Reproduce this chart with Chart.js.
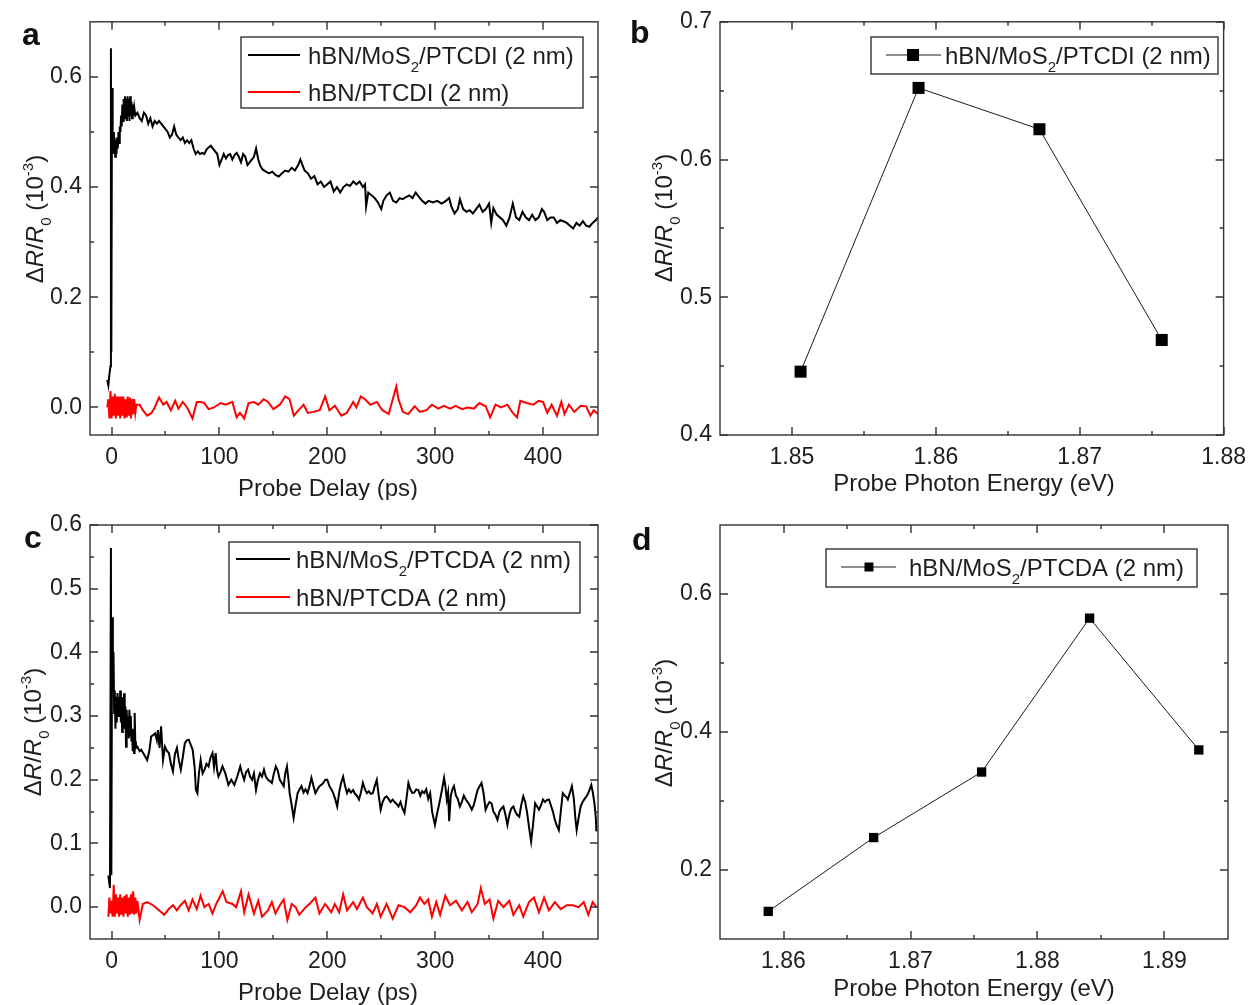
<!DOCTYPE html>
<html>
<head>
<meta charset="utf-8">
<script src="https://cdn.jsdelivr.net/npm/chart.js@4.4.0/dist/chart.umd.min.js"></script>
<style>
  body { margin: 0; background: #fff; }
  #fig { position: relative; width: 1255px; height: 1005px; background: #fff; }
  #fig canvas { position: absolute; }
</style>
</head>
<body>
<div id="fig">
  <canvas id="panelA" width="620" height="500" style="left:0;top:0"></canvas>
  <canvas id="panelB" width="635" height="500" style="left:620px;top:0"></canvas>
  <canvas id="panelC" width="620" height="505" style="left:0;top:500px"></canvas>
  <canvas id="panelD" width="635" height="505" style="left:620px;top:500px"></canvas>
</div>
<script>
// [delay (ps), dR/R0 (1e-3)]
const ptcdiHybrid = [
  [-4,0.05],[-3,0.04],[-2,0.06],[-1,0.075],[-0.6,0.652],[-0.2,0.1],[0.4,0.58],[1,0.47],[1.6,0.5],[2.2,0.46],
  [2.8,0.49],[3.4,0.455],[4,0.485],[4.6,0.46],[5.2,0.49],[5.8,0.47],[6.4,0.5],[7,0.48],[7.6,0.51],[8.2,0.5],
  [8.8,0.53],[9.4,0.51],[10,0.55],[10.6,0.52],[11.2,0.56],[11.8,0.525],[12.4,0.565],[13,0.53],[13.6,0.56],[14.2,0.52],
  [14.8,0.565],[15.4,0.53],[16,0.56],[16.6,0.52],[17.2,0.565],[17.8,0.53],[18.4,0.555],[19,0.525],[19.6,0.55],[20.2,0.53],
  [21,0.545],[22,0.53],[24,0.535],[26,0.525],[28,0.52],[30,0.535],[32,0.53],[34,0.515],[36,0.525],[38,0.51],
  [40,0.52],[42,0.515],[44,0.52],[46,0.515],[48,0.51],[50,0.505],[52,0.5],[54,0.49],[56,0.495],[58,0.51],
  [60,0.495],[62,0.49],[64,0.485],[66,0.49],[68,0.48],[70,0.485],[72,0.48],[74,0.485],[76,0.47],[78,0.46],
  [80,0.465],[82,0.46],[84,0.462],[86,0.46],[88,0.468],[90,0.472],[92,0.475],[94,0.47],[96,0.465],[98,0.46],
  [100,0.44],[102,0.45],[104,0.46],[106,0.452],[108,0.458],[110,0.46],[112,0.45],[114,0.458],[116,0.462],[118,0.455],
  [120,0.445],[122,0.46],[124,0.455],[126,0.44],[128,0.445],[130,0.45],[132,0.455],[134,0.47],[136,0.45],[138,0.438],
  [140,0.432],[143,0.428],[146,0.425],[149,0.428],[152,0.422],[155,0.419],[158,0.425],[161,0.43],[164,0.428],[167,0.435],
  [170,0.43],[173,0.44],[175,0.45],[177,0.44],[179,0.43],[182,0.425],[185,0.415],[188,0.42],[191,0.405],[194,0.41],
  [197,0.4],[200,0.405],[203,0.41],[206,0.392],[209,0.4],[212,0.39],[215,0.4],[218,0.405],[221,0.402],[224,0.41],
  [227,0.405],[230,0.41],[233,0.4],[235,0.405],[236,0.365],[238,0.39],[241,0.385],[244,0.38],[247,0.372],[250,0.36],
  [252,0.375],[255,0.385],[258,0.39],[261,0.375],[264,0.372],[267,0.38],[270,0.378],[273,0.382],[276,0.385],[279,0.38],
  [282,0.39],[285,0.382],[288,0.375],[291,0.37],[294,0.375],[298,0.372],[302,0.375],[306,0.37],[310,0.375],[313,0.38],
  [315,0.365],[318,0.352],[321,0.36],[323,0.378],[326,0.36],[329,0.355],[332,0.358],[335,0.352],[338,0.36],[341,0.368],
  [344,0.355],[347,0.36],[350,0.37],[352,0.335],[354,0.362],[357,0.35],[360,0.345],[363,0.34],[366,0.33],[369,0.345],
  [372,0.37],[375,0.345],[378,0.34],[381,0.355],[384,0.345],[387,0.34],[390,0.35],[393,0.34],[396,0.345],[399,0.36],
  [401,0.355],[404,0.34],[407,0.345],[410,0.345],[413,0.335],[416,0.34],[419,0.338],[422,0.335],[425,0.33],[428,0.325],
  [431,0.335],[434,0.33],[437,0.338],[440,0.33],[443,0.328],[446,0.335],[449,0.34],[451,0.345]
];
const ptcdiRef = [
  [-4,0],[-3,0.015],[-2,-0.02],[-1,0.03],[0,-0.02],[1,0.02],[2,-0.015],[3,0.025],[4,-0.02],[5,0.02],
  [6,-0.015],[7,0.02],[8,-0.02],[9,0.02],[10,-0.015],[11,0.02],[12,-0.02],[13,0.015],[14,-0.018],[15,0.02],
  [16,-0.015],[17,0.018],[18,-0.02],[19,0.015],[20,-0.012],[21,0.015],[22,-0.01],[23,0.005],[26,0.005],[29,-0.005],
  [33,-0.015],[37,-0.01],[40,0],[44,0.018],[48,0.005],[51,0.01],[55,-0.005],[59,0.012],[62,-0.002],[66,0.01],
  [70,0],[75,-0.02],[79,0.01],[83,0.01],[86,0.008],[90,-0.003],[95,0],[101,0.008],[106,0.005],[112,0.01],
  [116,-0.018],[119,-0.01],[123,-0.02],[127,0.008],[132,0.01],[136,0.005],[141,0.015],[145,0.01],[150,-0.003],[156,0.005],
  [161,0.02],[165,0.015],[169,-0.015],[172,-0.008],[178,0.005],[182,-0.01],[187,-0.008],[193,-0.005],[198,0.02],[202,-0.005],
  [207,0.003],[213,-0.015],[218,-0.01],[224,0.01],[227,0],[231,0.02],[235,0.015],[240,0.005],[246,0.01],[251,-0.005],
  [257,-0.012],[260,0.01],[264,0.038],[266,0.015],[270,-0.008],[275,-0.012],[281,0.002],[286,-0.008],[292,-0.005],[297,0.005],
  [303,-0.002],[308,0.003],[314,-0.002],[319,0.003],[325,-0.003],[330,0],[336,-0.002],[341,0.008],[347,0.002],[351,-0.018],
  [356,0.005],[361,0],[367,0.005],[372,-0.01],[376,-0.018],[379,0.012],[385,0.008],[391,0.005],[396,0.012],[400,0.01],
  [404,-0.01],[408,0.005],[413,-0.015],[417,0.01],[420,-0.012],[424,0.005],[429,-0.008],[435,0.003],[440,0.002],[444,-0.015],
  [447,-0.005],[451,-0.012]
];
const ptcdaHybrid = [
  [-3,0.05],[-1.5,0.03],[-0.6,0.564],[-0.2,0.05],[0.5,0.455],[1.2,0.37],[1.8,0.4],[2.4,0.305],[3,0.34],[3.6,0.28],
  [4.2,0.33],[4.8,0.29],[5.5,0.336],[6.2,0.3],[6.8,0.33],[7.4,0.3],[8,0.34],[8.6,0.29],[9.2,0.325],[9.8,0.275],
  [10.4,0.33],[11,0.29],[11.6,0.336],[12.2,0.28],[12.8,0.315],[13.4,0.252],[14,0.31],[14.7,0.27],[15.4,0.3],[16,0.265],
  [16.5,0.31],[17.2,0.27],[17.8,0.3],[18.4,0.26],[19,0.28],[19.6,0.245],[20.2,0.273],[20.8,0.242],[21.4,0.305],[22,0.26],
  [22.6,0.25],[23.9,0.252],[26,0.245],[27.5,0.247],[30,0.24],[33,0.231],[35,0.245],[36.7,0.268],[38.5,0.27],[40.4,0.273],
  [42,0.262],[43,0.278],[44.5,0.25],[45.9,0.284],[47.7,0.231],[49.5,0.252],[51.5,0.245],[53.2,0.242],[55,0.225],[56.9,0.213],
  [58.7,0.24],[60.6,0.25],[62.4,0.23],[64.2,0.216],[66,0.235],[67.9,0.257],[69.7,0.262],[71.6,0.263],[73.4,0.255],[75.2,0.247],
  [77,0.22],[78.2,0.184],[79.6,0.179],[81,0.21],[82.6,0.231],[84.4,0.21],[86.2,0.216],[88,0.225],[89.9,0.221],[91.7,0.235],
  [93.6,0.242],[95,0.22],[96.5,0.242],[97.8,0.215],[99.1,0.205],[101,0.212],[102.8,0.221],[105.5,0.21],[108.3,0.192],[111,0.2],
  [113.8,0.192],[116.5,0.205],[119.3,0.221],[121,0.21],[122.9,0.2],[124.7,0.212],[126.6,0.216],[128.4,0.205],[130.3,0.2],[132,0.21],
  [133.9,0.184],[135.7,0.2],[137.6,0.21],[139.5,0.205],[141.3,0.216],[143,0.205],[145,0.2],[146.8,0.198],[148.6,0.195],[150.5,0.21],
  [152.3,0.221],[154,0.215],[156,0.2],[157.8,0.195],[159.6,0.19],[161,0.21],[162.6,0.221],[164,0.2],[165.1,0.179],[167,0.16],
  [168.8,0.14],[170.6,0.16],[172.5,0.179],[174.3,0.185],[176.1,0.19],[178,0.18],[179.8,0.185],[181.7,0.179],[183.5,0.19],[185.3,0.203],
  [187.2,0.19],[189,0.179],[191,0.185],[192.7,0.19],[194.5,0.192],[196.3,0.195],[198.2,0.2],[200,0.2],[202,0.19],[203.7,0.185],
  [205.5,0.179],[207.3,0.17],[209.2,0.158],[211,0.18],[212.8,0.195],[214.7,0.205],[216.5,0.19],[218.3,0.179],[220,0.185],[222,0.18],
  [223.9,0.184],[225.7,0.178],[227.5,0.175],[229.4,0.169],[231.2,0.18],[233,0.195],[235,0.185],[236.7,0.179],[238.5,0.182],[240.3,0.178],
  [242.2,0.179],[244,0.19],[245.9,0.2],[247.7,0.175],[249.5,0.153],[251.3,0.165],[253.2,0.172],[255,0.174],[256.8,0.17],[258.7,0.165],
  [260.6,0.169],[262.4,0.165],[264.2,0.162],[266,0.158],[267.9,0.165],[269.7,0.155],[271.6,0.148],[273.4,0.17],[275.2,0.195],[277,0.185],
  [278.9,0.179],[280.7,0.18],[282.5,0.185],[284.4,0.184],[286.2,0.175],[288,0.182],[289.9,0.179],[291.7,0.185],[293.6,0.17],[295.4,0.179],
  [297.2,0.15],[299.8,0.129],[301.6,0.145],[303.5,0.16],[304.6,0.169],[306.4,0.185],[308.3,0.203],[309.5,0.19],[310.8,0.169],[312,0.18],
  [313,0.135],[314.5,0.175],[316,0.185],[317.4,0.19],[319.3,0.175],[321,0.17],[322.9,0.158],[324.7,0.165],[326.6,0.175],[328.4,0.169],
  [330.2,0.165],[332,0.16],[334,0.153],[335.8,0.16],[337.6,0.172],[339.4,0.184],[341.2,0.19],[343,0.195],[344.8,0.18],[346.8,0.153],
  [348.6,0.16],[350.4,0.165],[352.3,0.163],[354,0.15],[355.9,0.145],[357.8,0.137],[359.6,0.15],[361.5,0.155],[363.3,0.158],[365.2,0.145],
  [367,0.129],[368.8,0.145],[370.6,0.155],[372.5,0.158],[374.3,0.15],[376.1,0.145],[378,0.142],[379.8,0.16],[381.7,0.174],[383.5,0.165],
  [385.3,0.148],[387.1,0.125],[389,0.103],[390.8,0.13],[392.7,0.163],[394.5,0.158],[396.3,0.153],[398.2,0.16],[400,0.169],[401.8,0.165],
  [403.6,0.168],[405.5,0.169],[407.3,0.16],[409.2,0.15],[411,0.137],[412.8,0.128],[414.7,0.121],[416.5,0.15],[418.3,0.179],[420.2,0.175],
  [422,0.172],[423,0.169],[425,0.18],[426.8,0.19],[428.6,0.17],[430,0.14],[431.2,0.121],[433,0.14],[434.9,0.158],[436.7,0.165],
  [438.6,0.17],[440.4,0.174],[442.2,0.18],[444.8,0.192],[446.2,0.18],[447.7,0.163],[449,0.14],[449.5,0.119]
];
const ptcdaRef = [
  [-3,-0.015],[-2,0.015],[-1,-0.01],[0,0.01],[1,-0.015],[2,0.035],[3,-0.015],[4,0.02],[5,-0.01],[6,0.015],
  [7,-0.015],[8,0.02],[9,-0.012],[10,0.015],[11,-0.015],[12,0.018],[13,-0.01],[14,0.02],[15,-0.015],[16,0.015],
  [17,-0.012],[18,0.02],[19,-0.01],[20,0.025],[21,-0.012],[22,0.015],[23,-0.01],[24,0.01],[26,-0.02],[29,0.005],
  [33,0.008],[38.5,0.003],[44,-0.005],[48.8,-0.012],[53,-0.003],[57,0.003],[60.5,-0.005],[64,0.003],[68,0.01],[71.5,-0.005],
  [75,0.012],[79,-0.003],[82.5,0.018],[86,0],[90,0.005],[93.5,-0.01],[97,0.005],[103,0.025],[106.5,0.008],[112,0.005],
  [115.5,0],[120,0.025],[123,-0.008],[127,0.02],[132,-0.01],[136,0.01],[139.5,-0.015],[145,-0.005],[148.6,0.008],[152,-0.01],
  [156,0.003],[159.6,0.012],[163,-0.02],[167,0.005],[170.6,0],[174,-0.012],[180,0],[183.5,0.005],[189,0.015],[192.7,-0.01],
  [198,0.005],[203.7,-0.008],[207,0.005],[211,-0.008],[214.7,0.02],[218.3,-0.005],[224,0.008],[227.5,-0.003],[233,0.015],[236.7,0],
  [242,-0.01],[246,0.005],[249.5,-0.015],[255,0.005],[260.6,-0.018],[266,0.003],[271.6,0],[277,-0.008],[282.5,0.003],[286,0.015],
  [290,0.005],[293.6,0.012],[297,-0.015],[301,0.008],[304.6,-0.012],[309.4,0.018],[313.8,0.003],[319.3,0.01],[324.8,-0.005],[330,0.008],
  [334,-0.008],[339.4,0.005],[342.4,0.03],[346,0.005],[350.5,0.012],[354,-0.018],[358.5,0.01],[363.3,0],[368.8,0.01],[372.5,-0.012],
  [378,0.003],[381.7,-0.015],[387,0.008],[391.6,0.015],[396.3,-0.008],[401,0.015],[405.5,-0.005],[411,0.008],[416.5,-0.003],[422,0.003],
  [427.5,0.003],[433,0],[437.8,0.008],[442,-0.012],[446,0.008],[449.5,0]
];

// probe photon energy scans
const energyPTCDI = [1.8506, 1.8588, 1.8672, 1.8757];
const signalPTCDI = [0.446, 0.652, 0.622, 0.469];
const energyPTCDA = [1.8588, 1.8671, 1.8756, 1.8841, 1.8927];
const signalPTCDA = [0.14, 0.247, 0.342, 0.565, 0.374];

// tick values
const delayTicks = [0, 100, 200, 300, 400];
const delayMinor = [50, 150, 250, 350];
const ptcdiTicks = [0, 0.2, 0.4, 0.6];
const ptcdiMinor = [0.1, 0.3, 0.5];
const ptcdaTicks = [0, 0.1, 0.2, 0.3, 0.4, 0.5, 0.6];
const ptcdaMinor = [0.05, 0.15, 0.25, 0.35, 0.45, 0.55];
const energyTicksB = [1.85, 1.86, 1.87, 1.88];
const energyMinorB = [1.855, 1.865, 1.875];
const signalTicksB = [0.4, 0.5, 0.6, 0.7];
const signalMinorB = [0.45, 0.55, 0.65];
const energyTicksD = [1.86, 1.87, 1.88, 1.89];
const energyMinorD = [1.865, 1.875, 1.885];
const signalTicksD = [0.2, 0.4, 0.6];
const signalMinorD = [0.3, 0.5];

const FONT = '"Liberation Sans", Arial, sans-serif';
const TEXT = '#1e1e1e';
const AXIS = '#333';
const CAP = 8.6; // baseline offset so caps centre on the given y (24px)

const yTitleParts = [
  { t: 'Δ' }, { t: 'R', italic: true }, { t: '/' }, { t: 'R', italic: true },
  { t: '0', sub: true }, { t: ' (10' }, { t: '-3', sup: true }, { t: ')' }
];

// "MoS₂" -> MoS + subscript 2
function labelParts(label) {
  return label.split(/([\u2080-\u2089])/).filter(s => s).map(s => {
    const c = s.charCodeAt(0);
    return (s.length === 1 && c >= 0x2080 && c <= 0x2089) ? { t: String(c - 0x2080), sub: true } : { t: s };
  });
}

function partFont(p, size) {
  const s = (p.sub || p.sup) ? Math.round(size * 0.62) : size;
  return (p.italic ? 'italic ' : '') + s + 'px ' + FONT;
}

function richWidth(ctx, parts, size) {
  return parts.reduce((w, p) => { ctx.font = partFont(p, size); return w + ctx.measureText(p.t).width; }, 0);
}

function drawRich(ctx, parts, x, y, size) {
  let cx = x;
  parts.forEach(p => {
    ctx.font = partFont(p, size);
    const dy = p.sub ? size * 0.36 : p.sup ? -size * 0.42 : 0;
    ctx.fillText(p.t, cx, y + dy);
    cx += ctx.measureText(p.t).width;
  });
}

function makeDecor(cfg) {
  return {
    id: 'decor',
    afterDatasetsDraw(chart) {
      const { ctx, chartArea: area } = chart;
      const xs = chart.scales.x, ys = chart.scales.y;
      ctx.save();
      ctx.textAlign = 'left';
      ctx.textBaseline = 'alphabetic';

      // inward ticks on all four sides
      ctx.strokeStyle = AXIS;
      ctx.lineWidth = 1.4;
      ctx.beginPath();
      xs.ticks.map(t => [t.value, 8]).concat(cfg.xMinor.map(v => [v, 4])).forEach(([v, len]) => {
        const px = Math.round(xs.getPixelForValue(v));
        ctx.moveTo(px, area.bottom); ctx.lineTo(px, area.bottom - len);
        ctx.moveTo(px, area.top); ctx.lineTo(px, area.top + len);
      });
      ys.ticks.map(t => [t.value, 8]).concat(cfg.yMinor.map(v => [v, 4])).forEach(([v, len]) => {
        const py = Math.round(ys.getPixelForValue(v));
        ctx.moveTo(area.left, py); ctx.lineTo(area.left + len, py);
        ctx.moveTo(area.right, py); ctx.lineTo(area.right - len, py);
      });
      ctx.stroke();
      ctx.strokeRect(area.left, area.top, area.right - area.left, area.bottom - area.top);

      // legend box
      const lg = cfg.legend;
      ctx.fillStyle = '#fff';
      ctx.fillRect(lg.x, lg.y, lg.w, lg.h);
      ctx.lineWidth = 1.4;
      ctx.strokeRect(lg.x, lg.y, lg.w, lg.h);
      chart.data.datasets.forEach((ds, i) => {
        const ry = lg.rows[i];
        ctx.strokeStyle = ds.borderColor;
        ctx.lineWidth = ds.borderWidth;
        ctx.beginPath();
        ctx.moveTo(lg.lineFrom, ry); ctx.lineTo(lg.lineTo, ry);
        ctx.stroke();
        if (lg.marker) {
          ctx.fillStyle = ds.pointBackgroundColor;
          ctx.fillRect(lg.markerX - lg.marker / 2, ry - lg.marker / 2, lg.marker, lg.marker);
        }
        ctx.fillStyle = TEXT;
        drawRich(ctx, labelParts(ds.label), lg.textX, ry + CAP, 24);
      });

      // axis titles
      ctx.fillStyle = TEXT;
      ctx.font = '24px ' + FONT;
      ctx.textAlign = 'center';
      ctx.fillText(cfg.xTitle.text, cfg.xTitle.x, cfg.xTitle.y + CAP);
      ctx.textAlign = 'left';
      ctx.save();
      ctx.translate(cfg.yTitle.x, cfg.yTitle.y);
      ctx.rotate(-Math.PI / 2);
      drawRich(ctx, yTitleParts, -richWidth(ctx, yTitleParts, 24) / 2, CAP, 24);
      ctx.restore();

      // panel tag
      ctx.fillStyle = '#111';
      ctx.font = 'bold 32px ' + FONT;
      ctx.fillText(cfg.tag.text, cfg.tag.x, cfg.tag.y);
      ctx.restore();
    }
  };
}

function buildChart(id, datasets, s) {
  const tickFont = { family: FONT, size: 23 };
  return new Chart(document.getElementById(id), {
    type: 'line',
    data: { datasets },
    options: {
      responsive: false,
      animation: false,
      devicePixelRatio: 1,
      layout: { padding: { left: 0, top: s.top, right: s.right, bottom: 0 } },
      plugins: { legend: { display: false }, tooltip: { enabled: false } },
      scales: {
        x: {
          type: 'linear', min: s.xMin, max: s.xMax,
          grid: { display: false, drawTicks: false }, border: { display: false },
          afterBuildTicks: sc => { sc.ticks = s.xTicks.map(v => ({ value: v })); },
          afterFit: sc => { sc.height = s.xAxisH; },
          ticks: { padding: 9, maxRotation: 0, minRotation: 0, autoSkip: false, color: TEXT, font: tickFont,
                   callback: v => Number(v).toFixed(s.xDec) }
        },
        y: {
          type: 'linear', min: s.yMin, max: s.yMax,
          grid: { display: false, drawTicks: false }, border: { display: false },
          afterBuildTicks: sc => { sc.ticks = s.yTicks.map(v => ({ value: v })); },
          afterFit: sc => { sc.width = s.yAxisW; },
          ticks: { padding: 8, autoSkip: false, color: TEXT, font: tickFont,
                   callback: v => Number(v).toFixed(s.yDec) }
        }
      }
    },
    plugins: [makeDecor(s.decor)]
  });
}

function trace(label, pairs, color) {
  return {
    label, data: pairs.map(([x, y]) => ({ x, y })),
    borderColor: color, borderWidth: 2, pointRadius: 0, tension: 0
  };
}

function scan(label, energies, values, size) {
  return {
    label, data: energies.map((e, i) => ({ x: e, y: values[i] })),
    borderColor: '#1a1a1a', borderWidth: 1, tension: 0, clip: false,
    pointStyle: 'rect', pointRadius: size, pointBackgroundColor: '#000', pointBorderWidth: 0
  };
}

buildChart('panelA', [
  trace('hBN/MoS₂/PTCDI (2 nm)', ptcdiHybrid, '#000'),
  trace('hBN/PTCDI (2 nm)', ptcdiRef, '#ff0000')
], {
  top: 21, right: 22, yAxisW: 90, xAxisH: 65,
  xMin: -20, xMax: 451, xTicks: delayTicks, xDec: 0,
  yMin: -0.05, yMax: 0.70, yTicks: ptcdiTicks, yDec: 1,
  decor: {
    xMinor: delayMinor, yMinor: ptcdiMinor,
    tag: { text: 'a', x: 22, y: 45 },
    xTitle: { text: 'Probe Delay (ps)', x: 328, y: 487 },
    yTitle: { x: 34, y: 219 },
    legend: { x: 241, y: 37, w: 342, h: 71, rows: [55, 92], lineFrom: 248, lineTo: 300, textX: 308 }
  }
});

buildChart('panelB', [
  scan('hBN/MoS₂/PTCDI (2 nm)', energyPTCDI, signalPTCDI, 8.5)
], {
  top: 21, right: 27, yAxisW: 100, xAxisH: 65,
  xMin: 1.845, xMax: 1.88, xTicks: energyTicksB, xDec: 2,
  yMin: 0.4, yMax: 0.7, yTicks: signalTicksB, yDec: 1,
  decor: {
    xMinor: energyMinorB, yMinor: signalMinorB,
    tag: { text: 'b', x: 10, y: 43 },
    xTitle: { text: 'Probe Photon Energy (eV)', x: 354, y: 482 },
    yTitle: { x: 43, y: 218 },
    legend: { x: 251, y: 37, w: 347, h: 37, rows: [55], lineFrom: 266, lineTo: 321, markerX: 293, marker: 12, textX: 325 }
  }
});

buildChart('panelC', [
  trace('hBN/MoS₂/PTCDA (2 nm)', ptcdaHybrid, '#000'),
  trace('hBN/PTCDA (2 nm)', ptcdaRef, '#ff0000')
], {
  top: 25, right: 22, yAxisW: 90, xAxisH: 66,
  xMin: -20, xMax: 451, xTicks: delayTicks, xDec: 0,
  yMin: -0.05, yMax: 0.6, yTicks: ptcdaTicks, yDec: 1,
  decor: {
    xMinor: delayMinor, yMinor: ptcdaMinor,
    tag: { text: 'c', x: 24, y: 48 },
    xTitle: { text: 'Probe Delay (ps)', x: 328, y: 491 },
    yTitle: { x: 32, y: 232 },
    legend: { x: 229, y: 42, w: 351, h: 71, rows: [59, 97], lineFrom: 236, lineTo: 290, textX: 296 }
  }
});

buildChart('panelD', [
  scan('hBN/MoS₂/PTCDA (2 nm)', energyPTCDA, signalPTCDA, 6.6)
], {
  top: 25, right: 27, yAxisW: 100, xAxisH: 66,
  xMin: 1.855, xMax: 1.895, xTicks: energyTicksD, xDec: 2,
  yMin: 0.1, yMax: 0.7, yTicks: signalTicksD, yDec: 1,
  decor: {
    xMinor: energyMinorD, yMinor: signalMinorD,
    tag: { text: 'd', x: 12, y: 50 },
    xTitle: { text: 'Probe Photon Energy (eV)', x: 354, y: 487 },
    yTitle: { x: 43, y: 223 },
    legend: { x: 206, y: 49, w: 371, h: 38, rows: [67], lineFrom: 221, lineTo: 276, markerX: 249, marker: 9, textX: 289 }
  }
});
</script>
</body>
</html>
